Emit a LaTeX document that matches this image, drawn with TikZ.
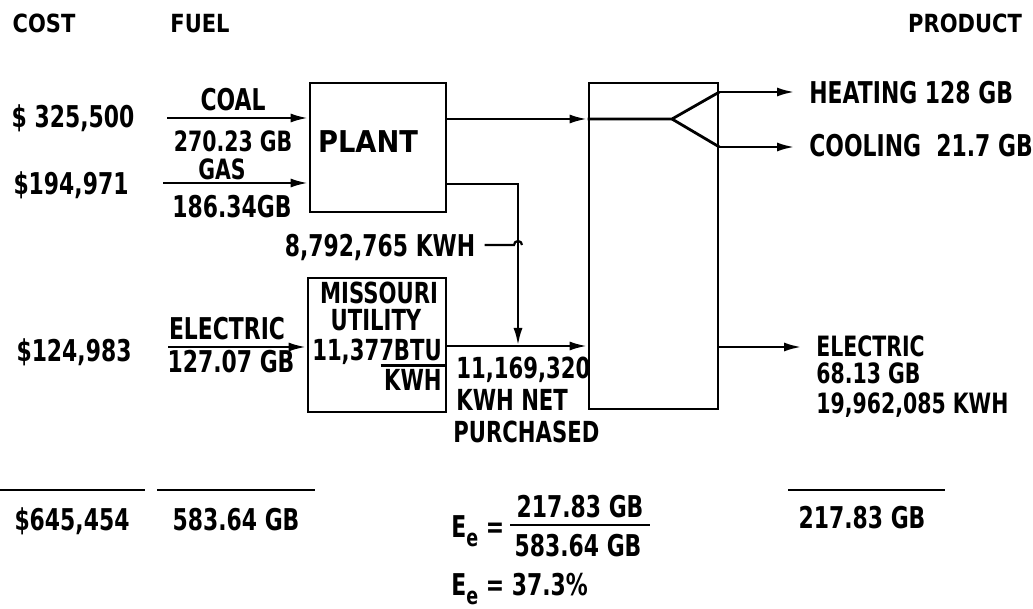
\documentclass[tikz,border=0pt]{standalone}
\usepackage{fontspec}
\setmainfont{DejaVu Sans}[FakeStretch=0.73, UprightFont=*-Bold]
\newfontfamily\hdrfont{DejaVu Sans}[FakeStretch=0.84, UprightFont=*-Bold]
\usetikzlibrary{arrows.meta}
\newcommand\tw[2]{\resizebox{#1pt}{\height}{#2}}
\newcommand\sube{\raisebox{-0.3em}{\fontsize{24}{24}\selectfont e}}
\begin{document}
\begin{tikzpicture}[x=1pt,y=-1pt,
  line width=2.8pt,
  box/.style={draw, line width=2.8pt, inner sep=0pt},
  arr/.style={-{Latex[length=18pt,width=9pt]}},
  txt/.style={inner sep=0pt, font=\fontsize{30}{32}\selectfont},
  stxt/.style={inner sep=0pt, font=\fontsize{29}{30}\selectfont},
  ttxt/.style={inner sep=0pt, font=\fontsize{28}{30}\selectfont},
  hdr/.style={inner sep=0pt, font=\hdrfont\fontsize{25}{28}\selectfont},
]
\useasboundingbox (0,0) rectangle (1033,609);

% headers
\node[hdr, anchor=base] (hcost) at (44,33) {COST};
\node[hdr, anchor=base] (hfuel) at (200,33) {FUEL};
\node[hdr, anchor=base] (hprod) at (965,33) {PRODUCT};

% boxes
\node[box, minimum width=136pt, minimum height=129pt] (plant) at (378,147.5) {};
\node[txt, anchor=base] (plantlbl) at (368,153) {\tw{100}{PLANT}};
\node[box, minimum width=138pt, minimum height=134pt] (mu) at (377,345) {};
\node[box, minimum width=129pt, minimum height=326pt] (big) at (653.5,246) {};

% costs
\node[txt, anchor=base] (c1) at (73,128) {\$ 325,500};
\node[txt, anchor=base] (c2) at (71,195) {\$194,971};
\node[txt, anchor=base] (c3) at (74,362) {\$124,983};

% fuel labels
\node[txt, anchor=base] (coal) at (233,111) {COAL};
\node[ttxt, anchor=base] (coalv) at (233,152) {270.23 GB};
\node[ttxt, anchor=base] (gas) at (222,180) {GAS};
\node[txt, anchor=base] (gasv) at (232,218) {186.34GB};
\node[txt, anchor=base] (elec) at (227,340) {ELECTRIC};
\node[txt, anchor=base] (elecv) at (231,373) {127.07 GB};

% Missouri utility text
\node[stxt, anchor=base] (mu1) at (379,304) {MISSOURI};
\node[stxt, anchor=base] (mu2) at (376,331) {UTILITY};
\node[stxt, anchor=base] (mu3) at (377,361) {11,377BTU};
\node[stxt, anchor=base east] (mu4) at (443,390) {KWH};
\draw[line width=2.2pt] (mu4.north west) ++(-2,-2) coordinate (fb1) -- (fb1 -| mu.east);

% fuel input connectors
\coordinate (coalS) at (167,118);
\coordinate (gasS) at (163,183);
\coordinate (elS) at (168,347);
\draw[arr] (coalS) -- (coalS -| plant.west);
\draw[arr] (gasS) -- (gasS -| plant.west);
\draw[arr] (elS) -- (elS -| mu.west);

% plant to big box
\coordinate (hy) at (0,119);
\draw[arr] (plant.east |- hy) -- (big.west |- hy);
\coordinate (tap) at (518,184);
\coordinate (jn) at (518,346);
\draw[arr] (plant.east |- tap) -- (tap) -- (jn);
\draw[arr] (mu.east |- jn) -- (big.west |- jn);

% 8,792,765 KWH tag
\node[txt, anchor=base] (k8) at (380,257) {8,792,765 KWH};
\coordinate (k8y) at (0,245);
\draw[line width=2.2pt] ([xshift=8pt]k8.east |- k8y) -- (514,245) arc[start angle=180, end angle=360, radius=4];

% purchased text
\node[stxt, anchor=base west] (p1) at (455,378) {11,169,320};
\node[stxt, anchor=base west] (p2) at (455,410) {KWH NET};
\node[stxt, anchor=base west] (p3) at (452,442) {PURCHASED};

% splitter triangle
\coordinate (apex) at (672,119);
\coordinate (ty) at (0,92);
\coordinate (by) at (0,147);
\coordinate (heatE) at (795,92);
\coordinate (coolE) at (795,147);
\coordinate (elE) at (802,347);
\draw (big.west |- hy) -- (apex) -- (big.east |- ty);
\draw (apex) -- (big.east |- by);
\draw[arr] (big.east |- ty) -- (heatE);
\draw[arr] (big.east |- by) -- (coolE);
\draw[arr] (elE -| big.east) -- (elE);

% products
\node[txt, anchor=base west] (heat) at (808,104) {HEATING 128 GB};
\node[txt, anchor=base west] (cool) at (808,157) {COOLING\ \ 21.7 GB};
\node[ttxt, anchor=base west] (pe1) at (815,356) {ELECTRIC};
\node[ttxt, anchor=base west] (pe2) at (815,384) {68.13 GB};
\node[ttxt, anchor=base west] (pe3) at (815,413) {19,962,085 KWH};

% totals
\draw (0,490) -- (145,490);
\draw (157,490) -- (315,490);
\draw (788,490) -- (945,490);
\node[txt, anchor=base] (tc) at (72,530) {\$645,454};
\node[txt, anchor=base] (tf) at (236,530) {583.64 GB};
\node[txt, anchor=base] (tp) at (862,528) {217.83 GB};

% efficiency
\node[txt, anchor=base west] (ee1) at (450,537) {E\sube\ =};
\node[txt, anchor=base] (num) at (580,517) {217.83 GB};
\node[txt, anchor=base] (den) at (578,556) {583.64 GB};
\draw (510,525) -- (650,525);
\node[txt, anchor=base west] (ee2) at (450,595) {E\sube\ = 37.3\%};
\end{tikzpicture}
\end{document}
